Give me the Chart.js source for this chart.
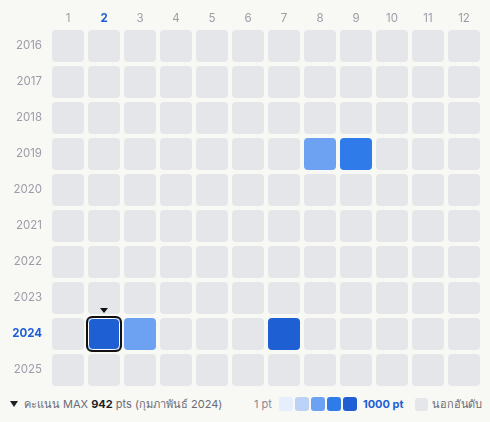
<!DOCTYPE html>
<html>
<head>
<meta charset="utf-8">
<script src="https://cdn.jsdelivr.net/npm/chart.js@4"></script>
<style>
  html, body { margin: 0; padding: 0; background: #f8f8f4; }
  body { width: 490px; height: 422px; position: relative; overflow: hidden;
         font-family: Inter, 'Noto Sans', sans-serif; }
  #wrap { position: absolute; left: 0; top: 0; width: 490px; height: 392px; }
  .foot { position: absolute; top: 396px; height: 16px; line-height: 16px; font-size: 11px; color: #6b6b76; white-space: nowrap; }
  .foot b { color: #1f1f24; }
  .sw { display: inline-block; width: 14px; height: 14px; border-radius: 3px; vertical-align: -3px; margin-right: 2px; }
  .tri { display: inline-block; width: 0; height: 0; border-left: 4px solid transparent; border-right: 4px solid transparent; border-top: 6px solid #1f1f24; margin-right: 6px; vertical-align: 1px; }
</style>
</head>
<body>
<div id="wrap"><canvas id="grid"></canvas></div>

<div class="foot" style="left:10px;"><span class="tri"></span>คะแนน MAX <b>942</b> pts (กุมภาพันธ์ 2024)</div>
<div class="foot" id="scale" style="left:254px;"></div>

<script>
// เดือน / ปี
const months = ['1', '2', '3', '4', '5', '6', '7', '8', '9', '10', '11', '12'];
const years = [2016, 2017, 2018, 2019, 2020, 2021, 2022, 2023, 2024, 2025];

// คะแนนที่มีในอันดับ
const scoreYears = [2019, 2019, 2024, 2024, 2024];
const scoreMonths = [8, 9, 2, 3, 7];
const scorePts = [430, 660, 942, 410, 880];

// ระดับสี
const levelEdges = [200, 400, 600, 800];
const levelColors = ['#e6eefc', '#bcd3f7', '#6ca2f1', '#2f7be9', '#1e5fd3'];
const emptyColor = '#e5e6ea';

const maxYear = 2024, maxMonth = 2;
const labelGrey = '#9d9ca8';
const accent = '#1d5fd6';

function colorFor(year, month) {
  for (let i = 0; i < scoreYears.length; i++) {
    if (scoreYears[i] === year && scoreMonths[i] === month) {
      let lv = 0;
      while (lv < levelEdges.length && scorePts[i] >= levelEdges[lv]) lv++;
      return levelColors[lv];
    }
  }
  return emptyColor;
}

const half = 0.444;
const datasets = years.map(y => ({
  label: String(y),
  data: months.map(() => [y - half, y + half]),
  backgroundColor: months.map(m => colorFor(y, +m)),
  borderRadius: 4,
  borderSkipped: false,
  grouped: false,
  barPercentage: 0.889,
  categoryPercentage: 1
}));

// กรอบเดือนที่ได้คะแนนสูงสุด + ลูกศร
const maxMarker = {
  id: 'maxMarker',
  afterDatasetsDraw(chart) {
    const el = chart.getDatasetMeta(years.indexOf(maxYear)).data[maxMonth - 1];
    const p = el.getProps(['x', 'y', 'base', 'width'], true);
    const top = Math.min(p.y, p.base), bot = Math.max(p.y, p.base);
    const l = p.x - p.width / 2, r = p.x + p.width / 2;
    const ctx = chart.ctx;
    ctx.save();
    ctx.strokeStyle = '#ffffff';
    ctx.lineWidth = 1;
    ctx.beginPath();
    ctx.roundRect(l + 0.5, top + 0.5, r - l - 1, bot - top - 1, 4);
    ctx.stroke();
    ctx.strokeStyle = '#111114';
    ctx.lineWidth = 2;
    ctx.beginPath();
    ctx.roundRect(l - 1, top - 1, r - l + 2, bot - top + 2, 5);
    ctx.stroke();
    ctx.fillStyle = '#111114';
    ctx.beginPath();
    ctx.moveTo(p.x - 4, top - 10);
    ctx.lineTo(p.x + 4, top - 10);
    ctx.lineTo(p.x, top - 5);
    ctx.closePath();
    ctx.fill();
    ctx.restore();
  }
};

new Chart(document.getElementById('grid'), {
  type: 'bar',
  data: { labels: months, datasets: datasets },
  plugins: [maxMarker],
  options: {
    responsive: true,
    maintainAspectRatio: false,
    animation: false,
    layout: { padding: { left: 0, right: 8, top: 0, bottom: 4 } },
    plugins: { legend: { display: false }, tooltip: { enabled: false } },
    scales: {
      x: {
        position: 'top',
        grid: { display: false, drawTicks: false },
        border: { display: false },
        afterFit(scale) { scale.height = 28; scale.paddingLeft = 0; scale.paddingRight = 0; },
        ticks: {
          padding: 3,
          color: ctx => ctx.index === maxMonth - 1 ? accent : labelGrey,
          font: ctx => ({ family: 'Inter', size: 11.5, weight: ctx.index === maxMonth - 1 ? 'bold' : 'normal' })
        }
      },
      y: {
        type: 'linear',
        reverse: true,
        min: 2015.5,
        max: 2025.5,
        grid: { display: false, drawTicks: false },
        border: { display: false },
        afterFit(scale) { scale.width = 50; scale.paddingTop = 0; scale.paddingBottom = 0; },
        afterBuildTicks(scale) { scale.ticks = years.map(y => ({ value: y })); },
        ticks: {
          padding: 8,
          callback: v => String(v),
          color: ctx => ctx.tick && ctx.tick.value === maxYear ? accent : labelGrey,
          font: ctx => ({ family: 'Inter', size: 11.5, weight: ctx.tick && ctx.tick.value === maxYear ? 'bold' : 'normal' })
        }
      }
    }
  }
});

// สเกลสีด้านล่าง
const sc = document.getElementById('scale');
let html = '<span style="color:#8a8a94;margin-right:7px;">1 pt</span>';
levelColors.forEach(c => { html += '<span class="sw" style="background:' + c + '"></span>'; });
html += '<b style="color:' + accent + ';margin-left:4px;margin-right:12px;">1000 pt</b>';
html += '<span class="sw" style="background:' + emptyColor + ';width:13px;height:13px;margin-right:4px;"></span><span style="letter-spacing:-0.2px">นอกอันดับ</span>';
sc.innerHTML = html;
</script>
</body>
</html>
